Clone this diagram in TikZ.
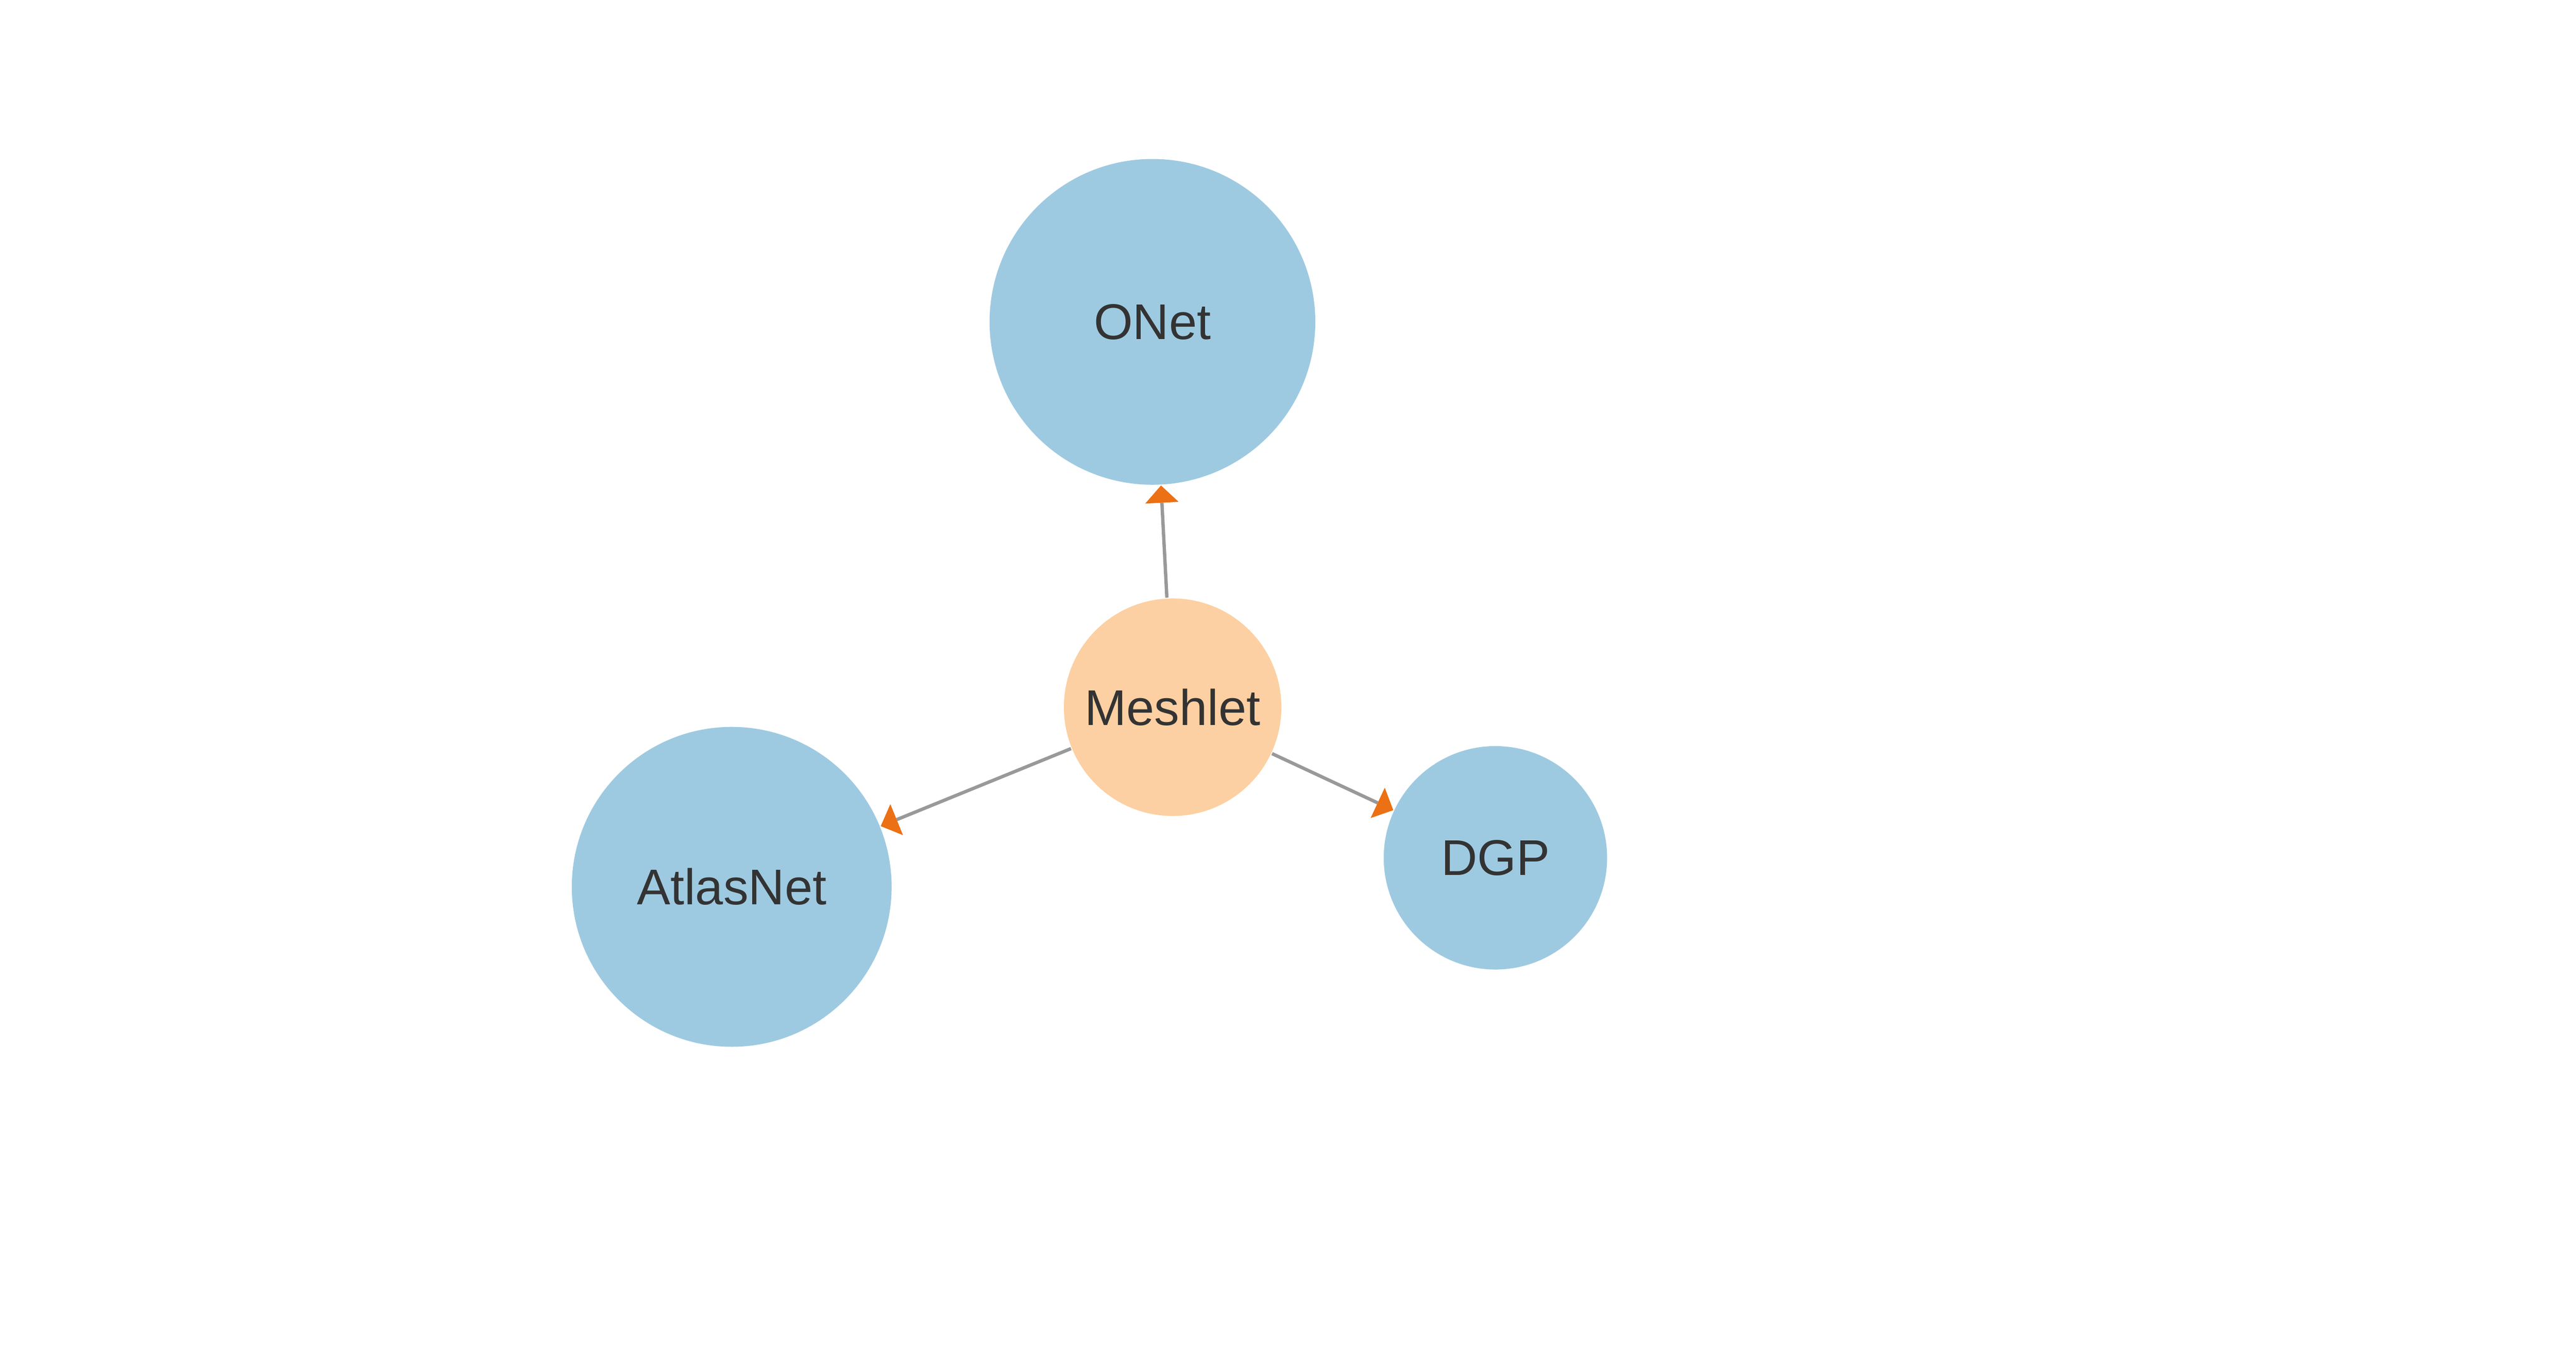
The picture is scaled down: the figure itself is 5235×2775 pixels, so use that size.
\documentclass[tikz,border=0pt]{standalone}
\usepackage{fontspec}
\setmainfont{Liberation Sans}
\usetikzlibrary{arrows.meta}
\definecolor{nodeblue}{HTML}{9ECAE1}
\definecolor{nodeorange}{HTML}{FCD0A2}
\definecolor{edgegray}{HTML}{999999}
\definecolor{tiporange}{HTML}{EC7014}
\definecolor{textgray}{HTML}{333333}
\tikzset{
  base/.style={circle, inner sep=0pt, text=textgray, font=\fontsize{10.2pt}{12pt}\selectfont},
  bignode/.style={base, fill=nodeblue},
  srcnode/.style={base, fill=nodeorange},
  link/.style={draw=edgegray, line width=0.68pt,
    -{Triangle[length=3.5pt,width=6.8pt,line width=0pt,color=tiporange]}}
}
\begin{document}
\begin{tikzpicture}[x=0.1pt,y=-0.1pt]
\useasboundingbox (0,0) rectangle (5235,2775);
\node[bignode, minimum size=66.2pt] (onet) at (2342,654) {ONet};
\node[bignode, minimum size=65pt] (atlas) at (1487,1802) {AtlasNet};
\node[bignode, minimum size=45.4pt] (dgp) at (3039,1743) {DGP};
\node[srcnode, minimum size=44.2pt] (mesh) at (2383,1437) {Meshlet};
\draw[link] (mesh) -- (onet);
\draw[link] (mesh) -- (atlas);
\draw[link] (mesh) -- (dgp);
\end{tikzpicture}
\end{document}
